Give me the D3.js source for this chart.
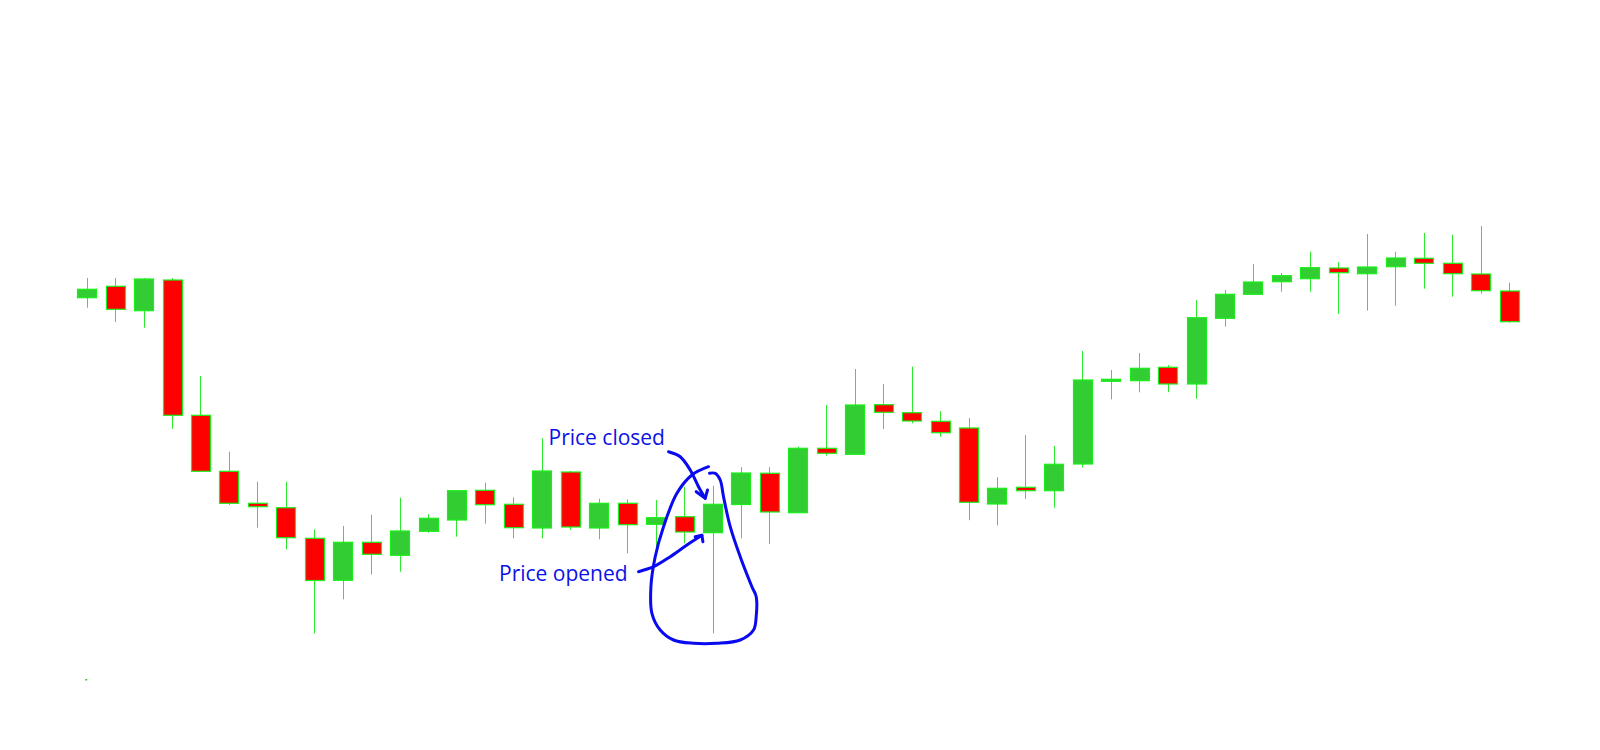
<!DOCTYPE html>
<html>
<head>
<meta charset="utf-8">
<title>Candlestick chart</title>
<script src="https://cdn.jsdelivr.net/npm/d3@7"></script>
<style>
    html, body { margin: 0; padding: 0; background: #ffffff; }
    #chart { width: 1600px; height: 750px; }
</style>
</head>
<body>
<div id="chart"></div>
<script>
// one candle per bar, in price units
const opens = [
    40.23, 41.37, 38.93, 42.00, 28.47, 22.87, 19.67, 19.23, 16.17, 11.97,
    15.77, 14.47, 16.87, 18.00, 20.97, 19.57, 17.20, 22.80, 17.20, 19.67,
    17.57, 18.33, 16.73, 19.55, 22.67, 18.73, 25.17, 24.57, 29.53, 28.73,
    27.87, 27.20, 19.60, 21.27, 20.93, 23.60, 31.90, 31.93, 33.27, 31.60,
    38.17, 40.57, 41.83, 42.13, 43.20, 42.63, 43.33, 44.17, 43.67, 42.60,
    40.90
];
const highs = [
    42.20, 42.20, 42.20, 42.20, 32.40, 24.83, 21.83, 21.83, 17.07, 17.40,
    18.53, 20.23, 18.57, 20.93, 21.73, 20.27, 26.17, 22.90, 20.13, 20.07,
    20.00, 21.33, 21.43, 23.28, 23.28, 25.33, 29.50, 33.10, 31.60, 33.33,
    28.87, 28.20, 22.28, 26.50, 25.40, 34.90, 33.00, 34.70, 33.48, 40.00,
    41.00, 43.60, 42.70, 44.83, 43.80, 46.60, 44.83, 46.70, 46.53, 47.40,
    41.73
];
const lows = [
    39.23, 37.80, 37.23, 27.13, 22.87, 19.50, 17.23, 15.07,  6.67, 10.07,
    12.57, 12.83, 16.73, 16.33, 17.63, 16.17, 16.17, 17.00, 16.07, 14.67,
    15.00, 15.67,  6.67, 16.17, 15.60, 18.73, 24.43, 24.57, 27.10, 27.67,
    26.33, 17.98, 17.45, 20.10, 19.23, 23.27, 30.07, 30.77, 30.78, 30.13,
    37.33, 40.57, 40.83, 40.83, 38.60, 38.93, 39.43, 41.13, 40.33, 40.63,
    37.73
];
const closes = [
    41.07, 39.07, 42.10, 28.47, 22.87, 19.67, 19.33, 16.23, 11.95, 15.77,
    14.57, 16.90, 18.17, 20.93, 19.53, 17.23, 22.90, 17.30, 19.67, 17.53,
    18.23, 16.80, 19.57, 22.70, 18.80, 25.17, 24.67, 29.50, 28.77, 27.90,
    26.73, 19.77, 21.17, 20.93, 23.57, 32.00, 32.07, 33.17, 31.60, 38.23,
    40.57, 41.80, 42.43, 43.23, 42.73, 43.30, 44.20, 43.67, 42.63, 40.93,
    37.83
];

// hand drawn notes, as pixel offsets from the marked candle
const markedCandle = 22;
const loopPoints = [
    [-4, -37.6], [-20.6, -29.3], [-35.6, -11], [-49, 22.4], [-57.3, 52.4],
    [-61.6, 82.4], [-60.6, 109], [-52.3, 125.7], [-39, 135.7], [-19, 139],
    [4.4, 139], [27.7, 135.7], [41, 125.7], [43.7, 112], [43.7, 92.4],
    [39.4, 82.4], [27.7, 52.4], [17.7, 22.4], [11, -7.6], [7.7, -24.3],
    [2.7, -31], [-3, -31]
];
const closedArrow = [[-44, -52.6], [-32.3, -47.6], [-22.3, -34.3], [-14, -17.6], [-7.3, -6]];
const closedHead = [[-16.3, -12.6], [-7.3, -6], [-5, -14.3]];
const openedArrow = [[-74, 67.4], [-59, 62.4], [-42.3, 52.4], [-25.6, 40.7], [-10.6, 31]];
const openedHead = [[-17.3, 32.4], [-10.6, 31], [-9.6, 37.4]];
const notes = [
    { text: 'Price closed', dx: -164, dy: -59.3 },
    { text: 'Price opened', dx: -213.5, dy: 76.4 }
];

document.addEventListener('DOMContentLoaded', () => {
    const chartWidth = 1600;
    const chartHeight = 750;

    const candles = opens.map((o, i) => ({
        index: i,
        open: o,
        high: highs[i],
        low: lows[i],
        close: closes[i]
    }));

    const svg = d3.select('#chart')
        .append('svg')
        .attr('width', chartWidth)
        .attr('height', chartHeight);

    svg.append('rect')
        .attr('width', chartWidth)
        .attr('height', chartHeight)
        .attr('fill', '#ffffff');

    const x = d3.scalePoint()
        .domain(candles.map(d => d.index))
        .range([86.7, 1509]);

    const y = d3.scaleLinear()
        .domain([-5, 70])
        .range([chartHeight, 0]);

    const bodyWidth = 19;
    const px = v => Math.round(v) + 0.5;

    // wicks
    svg.selectAll('.wick')
        .data(candles)
        .enter().append('line')
        .attr('class', 'wick')
        .attr('x1', d => px(x(d.index)))
        .attr('x2', d => px(x(d.index)))
        .attr('y1', d => y(d.high))
        .attr('y2', d => y(d.low))
        .attr('stroke', '#2ee82e')
        .attr('stroke-width', 1);

    // bodies
    svg.selectAll('.body')
        .data(candles)
        .enter().append('rect')
        .attr('class', 'body')
        .attr('x', d => px(x(d.index) - bodyWidth / 2))
        .attr('width', bodyWidth)
        .attr('y', d => y(Math.max(d.open, d.close)))
        .attr('height', d => Math.max(2, Math.abs(y(d.open) - y(d.close))))
        .attr('fill', d => d.close >= d.open ? '#32cd32' : '#ff0000')
        .attr('stroke', '#1aef1a')
        .attr('stroke-width', 1.2);

    // stray pixel under the first candle
    svg.append('rect')
        .attr('x', x(0) - 1.5)
        .attr('y', 679)
        .attr('width', 2)
        .attr('height', 1.5)
        .attr('fill', '#33cc33');

    // annotations around the marked candle
    const ax = x(markedCandle);
    const ay = y(closes[markedCandle]);
    const toAbs = pts => pts.map(p => [ax + p[0], ay + p[1]]);
    const ink = '#0a0af0';

    const smooth = d3.line().curve(d3.curveCatmullRom.alpha(0.5));
    const straight = d3.line();

    const annot = svg.append('g')
        .attr('fill', 'none')
        .attr('stroke', ink)
        .attr('stroke-width', 3)
        .attr('stroke-linecap', 'round')
        .attr('stroke-linejoin', 'round');

    annot.append('path').attr('d', smooth(toAbs(loopPoints)));
    annot.append('path').attr('d', smooth(toAbs(closedArrow)));
    annot.append('path').attr('d', straight(toAbs(closedHead)));
    annot.append('path').attr('d', smooth(toAbs(openedArrow)));
    annot.append('path').attr('d', straight(toAbs(openedHead)));

    svg.selectAll('.note')
        .data(notes)
        .enter().append('text')
        .attr('class', 'note')
        .attr('x', d => ax + d.dx)
        .attr('y', d => ay + d.dy)
        .attr('fill', '#0c12e6')
        .style('font-family', '"Open Sans", "Noto Sans", sans-serif')
        .style('font-size', '21px')
        .text(d => d.text);
});
</script>
</body>
</html>
